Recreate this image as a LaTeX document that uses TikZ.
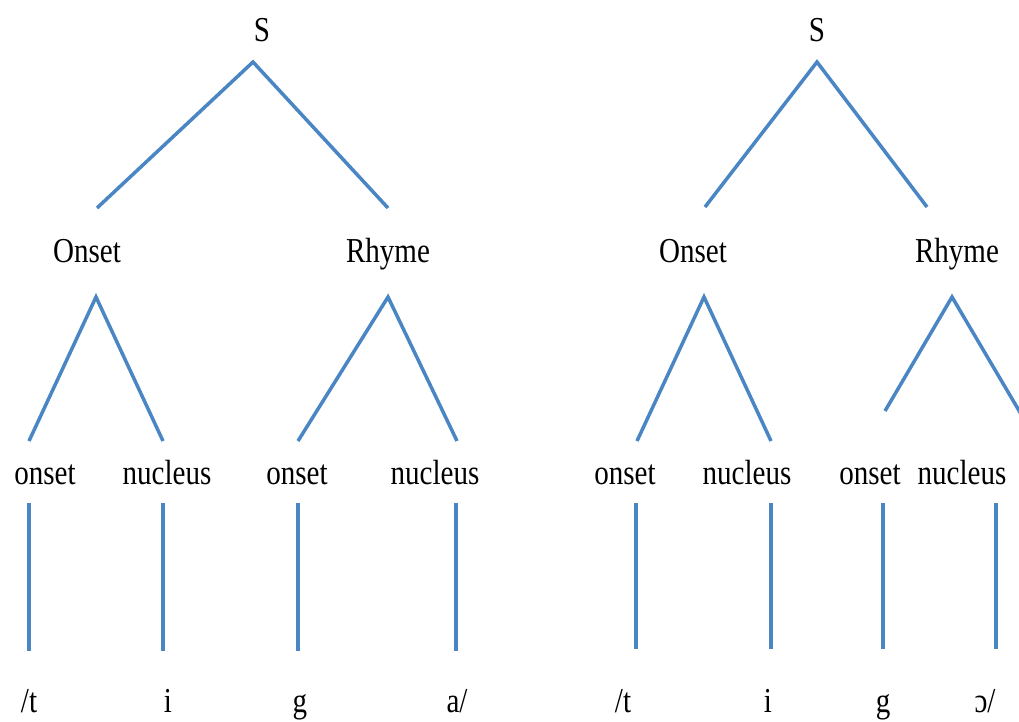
\documentclass[tikz,border=0pt]{standalone}
\usepackage{fontspec}
\setmainfont{Liberation Serif}
\definecolor{treeblue}{RGB}{74,134,196}
\begin{document}
\begin{tikzpicture}[x=1pt,y=-1pt,
  lbl/.style={anchor=base, inner sep=0pt, xscale=0.83, font=\fontsize{35}{40}\selectfont},
  branch/.style={draw=treeblue, line width=3.5pt}]
\useasboundingbox (0,0) rectangle (1019,722);
\begin{scope}
\clip (0,0) rectangle (1019,722);
% ---------- left tree labels ----------
\node[lbl] (S1) at (262,42) {S};
\node[lbl] (On1) at (87,262) {Onset};
\node[lbl] (Rh1) at (388,262) {Rhyme};
\node[lbl] (o1) at (45,484) {onset};
\node[lbl] (n1) at (167,484) {nucleus};
\node[lbl] (o2) at (297,484) {onset};
\node[lbl] (n2) at (435,484) {nucleus};
\node[lbl] (b1) at (29,712) {/t};
\node[lbl] (b2) at (168,712) {i};
\node[lbl] (b3) at (300,712) {g};
\node[lbl] (b4) at (457,712) {a/};
% ---------- right tree labels ----------
\node[lbl] (S2) at (817,42) {S};
\node[lbl] (On2) at (693,262) {Onset};
\node[lbl] (Rh2) at (957,262) {Rhyme};
\node[lbl] (o3) at (625,484) {onset};
\node[lbl] (n3) at (747,484) {nucleus};
\node[lbl] (o4) at (870,484) {onset};
\node[lbl] (n4) at (962,484) {nucleus};
\node[lbl] (b5) at (623,712) {/t};
\node[lbl] (b6) at (768,712) {i};
\node[lbl] (b7) at (883,712) {g};
\node[lbl] (b8) at (985,712) {ɔ/};
% ---------- left tree connector ends ----------
\coordinate (S1a) at (253,62);
\coordinate (On1t) at (97,208);
\coordinate (Rh1t) at (388,208);
\coordinate (On1a) at (96,297);
\coordinate (Rh1a) at (388,297);
\coordinate (o1t) at (29,441);
\coordinate (n1t) at (163,441);
\coordinate (o2t) at (298,441);
\coordinate (n2t) at (457,441);
\coordinate (o1b) at (29,503);
\coordinate (n1b) at (163,503);
\coordinate (o2b) at (298,503);
\coordinate (n2b) at (456,503);
\coordinate (b1t) at (29,651);
\coordinate (b2t) at (163,651);
\coordinate (b3t) at (298,651);
\coordinate (b4t) at (456,651);
% ---------- right tree connector ends ----------
\coordinate (S2a) at (817,62);
\coordinate (On2t) at (705,207);
\coordinate (Rh2t) at (927,207);
\coordinate (On2a) at (704,297);
\coordinate (Rh2a) at (952,297);
\coordinate (o3t) at (637,441);
\coordinate (n3t) at (771,441);
\coordinate (o4t) at (885,411);
\coordinate (n4t) at (1021,414);
\coordinate (o3b) at (636,503);
\coordinate (n3b) at (771,503);
\coordinate (o4b) at (883,503);
\coordinate (n4b) at (996,503);
\coordinate (b5t) at (636,649);
\coordinate (b6t) at (771,649);
\coordinate (b7t) at (883,649);
\coordinate (b8t) at (996,649);
% ---------- connectors ----------
\draw[branch] (On1t) -- (S1a) -- (Rh1t);
\draw[branch] (o1t) -- (On1a) -- (n1t);
\draw[branch] (o2t) -- (Rh1a) -- (n2t);
\draw[branch] (o1b) -- (b1t);
\draw[branch] (n1b) -- (b2t);
\draw[branch] (o2b) -- (b3t);
\draw[branch] (n2b) -- (b4t);
\draw[branch] (On2t) -- (S2a) -- (Rh2t);
\draw[branch] (o3t) -- (On2a) -- (n3t);
\draw[branch] (o4t) -- (Rh2a) -- (n4t);
\draw[branch] (o3b) -- (b5t);
\draw[branch] (n3b) -- (b6t);
\draw[branch] (o4b) -- (b7t);
\draw[branch] (n4b) -- (b8t);
\end{scope}
\end{tikzpicture}
\end{document}
